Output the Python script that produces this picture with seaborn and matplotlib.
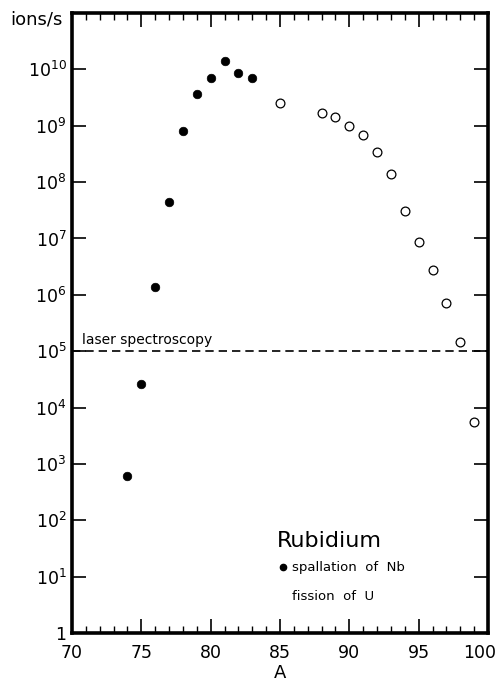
import matplotlib
matplotlib.use("Agg")
import matplotlib.pyplot as plt
import matplotlib.transforms as mtrans
import seaborn as sns
import pandas as pd
import numpy as np

# Data
spall_A = [74, 75, 76, 77, 78, 79, 80, 81, 82, 83]
spall_rate = [6.2e2, 2.6e4, 1.4e6, 4.4e7, 8.0e8, 3.6e9, 7.0e9, 1.4e10, 8.5e9, 7.0e9]
fiss_A = [85, 88, 89, 90, 91, 92, 93, 94, 95, 96, 97, 98, 99]
fiss_rate = [2.5e9, 1.65e9, 1.4e9, 1.0e9, 6.8e8, 3.4e8, 1.4e8, 3.1e7, 8.8e6, 2.8e6, 7.1e5, 1.43e5, 5.5e3]
laser_limit = 1e5
y_ticks = [1, 1e1, 1e2, 1e3, 1e4, 1e5, 1e6, 1e7, 1e8, 1e9, 1e10]
y_ticklabels = ["1"] + [f"$10^{{{i}}}$" for i in range(1, 11)]
x_ticks = [70, 75, 80, 85, 90, 95, 100]

sns.set_style("ticks")
plt.rcParams['font.family'] = ['DejaVu Sans']
plt.rcParams['mathtext.fontset'] = 'dejavusans'
for k in ['text.color', 'axes.labelcolor', 'xtick.color', 'ytick.color']:
    plt.rcParams[k] = 'black'

fig = plt.figure(figsize=(5.01, 6.84), dpi=100)
ax = fig.add_axes([72/501, 51/684, 416/501, 620/684])

df_s = pd.DataFrame({"A": spall_A, "rate": spall_rate})
df_f = pd.DataFrame({"A": fiss_A, "rate": fiss_rate})

sns.scatterplot(data=df_s, x="A", y="rate", ax=ax, s=38, color="black",
                edgecolor="black", linewidth=0.5, zorder=3)
sns.scatterplot(data=df_f, x="A", y="rate", ax=ax, s=40, facecolor="white",
                edgecolor="black", linewidth=0.9, zorder=3)

ax.set_yscale("log")
ax.set_xlim(70, 100)
ax.set_ylim(1, 1e11)
ax.axhline(laser_limit, color="black", linestyle=(0, (5, 3)), linewidth=1.2, zorder=2)
ax.text(70.75, laser_limit * 1.2, "laser spectroscopy", fontsize=10, ha="left", va="bottom")

ax.set_yticks(y_ticks)
ax.set_yticklabels(y_ticklabels, fontsize=12.5)
ax.yaxis.set_minor_locator(matplotlib.ticker.NullLocator())
ax.set_xticks(x_ticks)
ax.set_xticklabels([str(t) for t in x_ticks], fontsize=12.5)
ax.set_xticks(np.arange(70, 101, 1), minor=True)

ax.tick_params(axis="both", which="major", direction="in", length=10, width=1.2,
               top=True, right=True)
ax.tick_params(axis="x", which="major", pad=8)
ax.tick_params(axis="y", which="major", pad=4)
ax.tick_params(axis="x", which="minor", direction="in", length=5, width=1.0, top=True)
ax.tick_params(axis="y", which="major", labelright=False)

# keep the "100" label inside the figure, as in the reference
last = ax.get_xticklabels()[-1]
last.set_transform(last.get_transform() + mtrans.ScaledTranslation(-8/100, 0, fig.dpi_scale_trans))

for sp in ax.spines.values():
    sp.set_linewidth(2.6)
    sp.set_color("black")

ax.set_xlabel("A", fontsize=13, labelpad=1)
ax.set_ylabel("")
fig.text(10/501, 1 - 20/684, "ions/s", fontsize=13, ha="left", va="center")

ax.text(84.8, 10**1.63, "Rubidium", fontsize=16, ha="left", va="center")
ax.plot([85.2], [10**1.17], marker="o", color="black", markersize=4.5)
ax.text(85.9, 10**1.17, "spallation  of  Nb", fontsize=9.5, ha="left", va="center")
ax.text(85.9, 10**0.65, "fission  of  U", fontsize=9.5, ha="left", va="center")

fig.savefig("out.png", dpi=100)
